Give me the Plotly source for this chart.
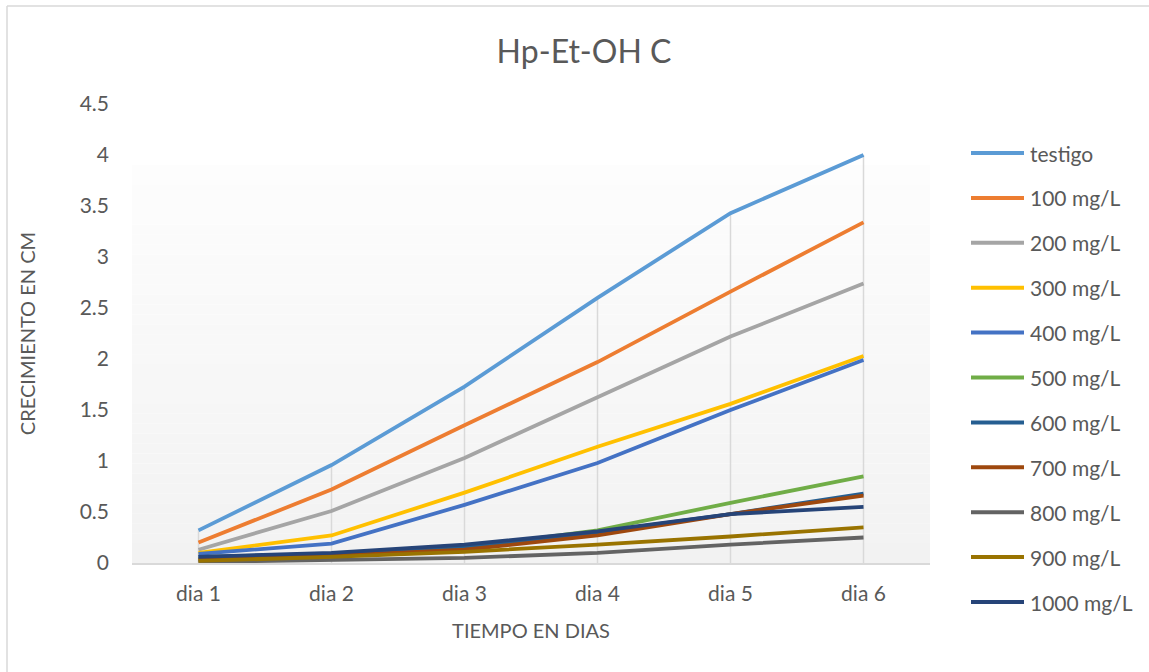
import plotly.graph_objects as go

# Growth (cm) per day for each extract concentration
dias = ["dia 1", "dia 2", "dia 3", "dia 4", "dia 5", "dia 6"]

testigo = [0.32, 0.96, 1.73, 2.60, 3.43, 4.00]
mg100 = [0.20, 0.72, 1.35, 1.97, 2.66, 3.34]
mg200 = [0.13, 0.51, 1.03, 1.62, 2.22, 2.74]
mg300 = [0.10, 0.27, 0.69, 1.14, 1.56, 2.03]
mg400 = [0.09, 0.19, 0.57, 0.98, 1.50, 1.99]
mg500 = [0.04, 0.08, 0.15, 0.32, 0.59, 0.85]
mg600 = [0.06, 0.09, 0.16, 0.30, 0.48, 0.68]
mg700 = [0.03, 0.07, 0.13, 0.27, 0.48, 0.66]
mg800 = [0.01, 0.03, 0.05, 0.10, 0.18, 0.25]
mg900 = [0.02, 0.06, 0.11, 0.18, 0.26, 0.35]
mg1000 = [0.06, 0.10, 0.18, 0.31, 0.48, 0.55]

series_names = ["testigo", "100 mg/L", "200 mg/L", "300 mg/L", "400 mg/L", "500 mg/L",
                "600 mg/L", "700 mg/L", "800 mg/L", "900 mg/L", "1000 mg/L"]
series_values = [testigo, mg100, mg200, mg300, mg400, mg500,
                 mg600, mg700, mg800, mg900, mg1000]
series_colors = ["#5B9BD5", "#ED7D31", "#A5A5A5", "#FFC000", "#4472C4", "#70AD47",
                 "#255E91", "#9E480E", "#636363", "#997300", "#264478"]

FONT = "Lato"
TXT = "#595959"

# plot area in pixels (used to place the legend in paper units)
PX_L, PX_R, PX_T, PX_B = 132, 930, 104, 563
def px_to_paper_x(px):
    return (px - PX_L) / (PX_R - PX_L)
def px_to_paper_y(py):
    return (PX_B - py) / (PX_B - PX_T)

fig = go.Figure()

for name, vals, col in zip(series_names, series_values, series_colors):
    fig.add_trace(go.Scatter(
        x=dias, y=vals, name=name, mode="lines",
        line=dict(color=col, width=3.8),
        showlegend=False,
    ))

shapes = []
annotations = []

# plot-area gradient fill (white at top fading to light gray at the floor)
n_strips = 40
grad_top = 3.9
for k in range(n_strips):
    y0 = grad_top * k / n_strips
    y1 = grad_top * (k + 1) / n_strips
    t = k / (n_strips - 1)
    v = round(242 + (253 - 242) * t)
    shapes.append(dict(type="rect", xref="x domain", yref="y",
                       x0=0, x1=1, y0=y0, y1=y1,
                       fillcolor=f"rgb({v},{v},{v})", line=dict(width=0),
                       layer="below"))

# drop lines from the highest value of each day to the axis
for idx in range(len(dias)):
    top = max(vals[idx] for vals in series_values)
    shapes.append(dict(type="line", xref="x", yref="y",
                       x0=idx, x1=idx, y0=0, y1=top,
                       line=dict(color="#D9D9D9", width=1.5), layer="below"))

# chart frame edges
shapes.append(dict(type="line", xref="paper", yref="paper",
                   x0=px_to_paper_x(7), x1=px_to_paper_x(7),
                   y0=px_to_paper_y(700), y1=px_to_paper_y(6),
                   line=dict(color="#D9D9D9", width=1.5)))
shapes.append(dict(type="line", xref="paper", yref="paper",
                   x0=px_to_paper_x(7), x1=px_to_paper_x(1200),
                   y0=px_to_paper_y(6), y1=px_to_paper_y(6),
                   line=dict(color="#D9D9D9", width=1.5)))

# legend: line sample + label per series
for i, (name, col) in enumerate(zip(series_names, series_colors)):
    yc = px_to_paper_y(153 + 44.9 * i)
    shapes.append(dict(type="line", xref="paper", yref="paper",
                       x0=px_to_paper_x(971), x1=px_to_paper_x(1024), y0=yc, y1=yc,
                       line=dict(color=col, width=4)))
    annotations.append(dict(xref="paper", yref="paper",
                            x=px_to_paper_x(1028), y=yc,
                            xanchor="left", yanchor="middle", showarrow=False,
                            text=name, font=dict(family=FONT, size=21, color=TXT)))

fig.update_layout(
    width=1149, height=672,
    margin=dict(l=PX_L, r=1149 - PX_R, t=PX_T, b=672 - PX_B),
    paper_bgcolor="white", plot_bgcolor="white",
    font=dict(family=FONT, color=TXT, size=20),
    title=dict(text="Hp-Et-OH C", x=584 / 1149, xanchor="center",
               y=1 - 52 / 672, yanchor="middle",
               font=dict(family=FONT, size=32, color=TXT)),
    xaxis=dict(
        type="category", range=[-0.5, 5.5],
        showgrid=False, zeroline=False,
        showline=True, linecolor="#D9D9D9", linewidth=1.5,
        ticks="", ticklabelstandoff=11,
        tickfont=dict(family=FONT, size=21, color=TXT),
        title=dict(text="TIEMPO EN DIAS", standoff=20,
                   font=dict(family=FONT, size=20, color=TXT)),
    ),
    yaxis=dict(
        range=[0, 4.5], dtick=0.5, tickformat="~g",
        showgrid=False, zeroline=False, showline=False,
        ticks="", ticklabelstandoff=22,
        tickfont=dict(family=FONT, size=21, color=TXT),
        title=dict(text="CRECIMIENTO EN CM", standoff=38,
                   font=dict(family=FONT, size=20, color=TXT)),
    ),
    shapes=shapes,
    annotations=annotations,
    showlegend=False,
)

fig.write_html("out.html")
